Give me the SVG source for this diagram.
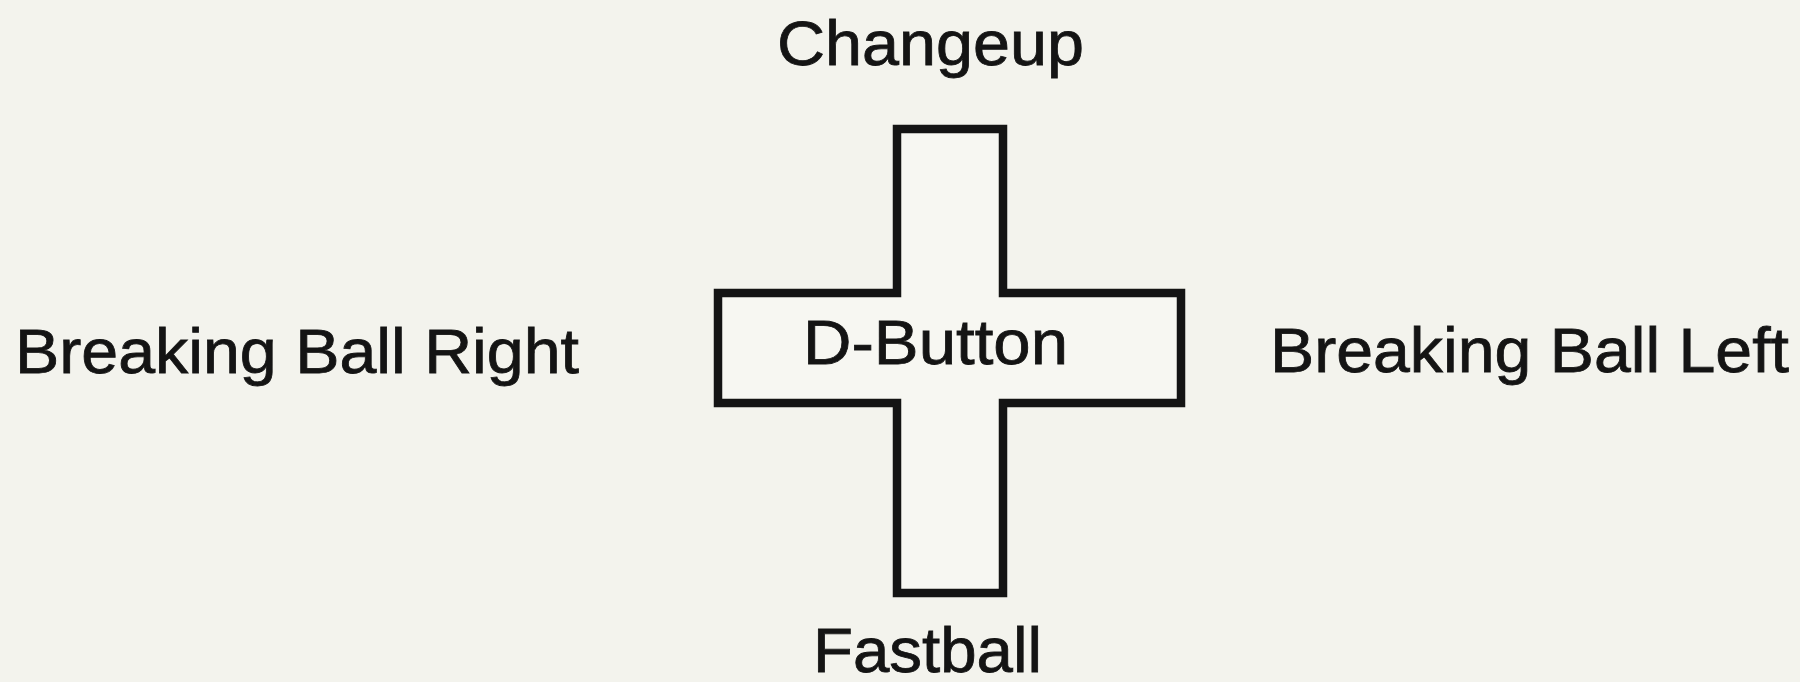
<svg xmlns="http://www.w3.org/2000/svg" width="1800" height="682" viewBox="0 0 1800 682">
  <style>
    .label { font-family: "Liberation Sans", Arial, Helvetica, sans-serif; font-size: 63px; fill: #141414; stroke: #141414; stroke-width: 0.8px; }
    .pad { fill: #f7f7f2; stroke: #141414; stroke-width: 8.5; stroke-linejoin: miter; }
  </style>
  <rect width="1800" height="682" fill="#f3f3ed"/>

  <!-- directional pad -->
  <g id="d-button">
    <path class="pad" d="M897,129 H1003 V293 H1181 V403 H1003 V593 H897 V403 H718 V293 H897 Z"/>
    <text class="label" x="803" y="364" textLength="265" lengthAdjust="spacingAndGlyphs">D-Button</text>
  </g>

  <g id="changeup">
    <text class="label" x="777" y="65" textLength="307" lengthAdjust="spacingAndGlyphs">Changeup</text>
  </g>

  <g id="fastball">
    <text class="label" x="813" y="672" textLength="229" lengthAdjust="spacingAndGlyphs">Fastball</text>
  </g>

  <g id="breaking-ball-right">
    <text class="label" x="15" y="373" textLength="564" lengthAdjust="spacingAndGlyphs">Breaking Ball Right</text>
  </g>

  <g id="breaking-ball-left">
    <text class="label" x="1270" y="372" textLength="519" lengthAdjust="spacingAndGlyphs">Breaking Ball Left</text>
  </g>
</svg>
